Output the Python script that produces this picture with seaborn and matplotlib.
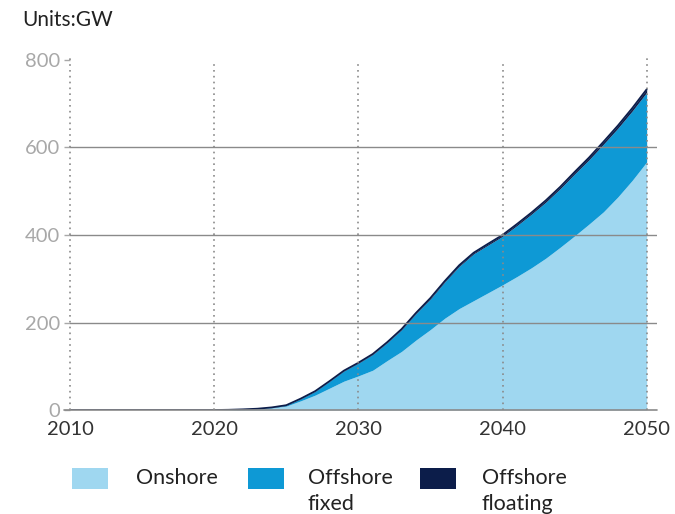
import numpy as np
import pandas as pd
import matplotlib.pyplot as plt
import seaborn as sns
from matplotlib.patches import Rectangle

years = list(range(2010, 2051))
onshore = [0, 0, 0, 0, 0, 0, 0, 0, 0, 0, 0,
           0.3, 1, 2.5, 5, 9, 21, 34, 50, 66, 78,
           91, 113, 134, 160, 184, 210, 232, 250, 268, 286,
           305, 325, 347, 372, 398, 425, 453, 487, 525, 567]
offshore_fixed = [0, 0, 0, 0, 0, 0, 0, 0, 0, 0, 0,
                  0.2, 0.5, 0.5, 1, 1.7, 4.5, 8.5, 15.5, 23.2, 29,
                  36, 40.8, 49.5, 60.5, 70, 83, 96.5, 107, 109, 111,
                  116.5, 122.5, 128, 134, 141.5, 147, 154.5, 157, 158.5, 159]
offshore_floating = [0, 0, 0, 0, 0, 0, 0, 0, 0, 0, 0,
                     0, 0, 0, 0, 0.3, 0.5, 0.5, 0.5, 0.8, 1,
                     1, 1.2, 1.5, 1.5, 2, 2, 2.5, 2.5, 3, 3,
                     3.5, 3.5, 4, 4, 4.5, 5, 5.5, 6, 6.5, 7]
series_names = ["Onshore", "Offshore\nfixed", "Offshore\nfloating"]
series_colors = ["#9fd7f0", "#0e99d5", "#0c1d4a"]
x_ticks = [2010, 2020, 2030, 2040, 2050]
y_ticks = [0, 200, 400, 600, 800]

df = pd.DataFrame({"year": years, "Onshore": onshore,
                   "Offshore fixed": offshore_fixed,
                   "Offshore floating": offshore_floating})
df["total"] = df["Onshore"] + df["Offshore fixed"] + df["Offshore floating"]

sns.set_style("white")
plt.rcParams['font.family'] = ['Lato', 'DejaVu Sans']

fig = plt.figure(figsize=(6.75, 5.14), dpi=100)
ax = fig.add_axes([0.1037, 0.2023, 0.8693, 0.681])

ax.stackplot(df["year"], df["Onshore"], df["Offshore fixed"], df["Offshore floating"],
             colors=series_colors, linewidth=0, zorder=2)
sns.lineplot(data=df, x="year", y="total", color=series_colors[2], lw=1.3, ax=ax, zorder=3)

# grid
for v in [200, 400, 600]:
    ax.axhline(v, color="#8a8a8a", lw=1.0, zorder=4)
ax.axhline(0, color="#8a8a8a", lw=1.2, zorder=4, xmin=-0.01, clip_on=False)
for xv in x_ticks:
    top = 805 if xv in (2010, 2050) else 795
    ax.vlines(xv, 0, top, colors="#8a8a8a", linestyles=(0, (1, 2.5)), lw=1.2, zorder=5,
              clip_on=False)

ax.set_xlim(2010, 2050.7)
ax.set_ylim(0, 800)
ax.set_xticks(x_ticks)
ax.set_yticks(y_ticks)
ax.set_xlabel("")
ax.set_ylabel("")
for s in ax.spines.values():
    s.set_visible(False)
ax.tick_params(axis="x", length=0, labelsize=14.5, labelcolor="#333333", pad=8)
ax.tick_params(axis="y", length=4, width=1, color="#a8a8a8", labelsize=14.5,
               labelcolor="#a8a8a8", pad=3, left=True)

fig.text(22 / 675, 1 - 20 / 514, "Units:GW", fontsize=15, color="#222222",
         va="center", ha="left")

# legend
W, H = 675, 514
patch_x = [72, 248, 420]
text_x = [136, 308, 482]
for px, tx, name, col in zip(patch_x, text_x, series_names, series_colors):
    fig.add_artist(Rectangle((px / W, 1 - 489 / H), 36 / W, 21 / H,
                             transform=fig.transFigure, color=col, lw=0))
    fig.text(tx / W, 1 - 468 / H, name, fontsize=15.5, color="#222222",
             va="top", ha="left", linespacing=1.4)

fig.savefig("out.png", dpi=100)
